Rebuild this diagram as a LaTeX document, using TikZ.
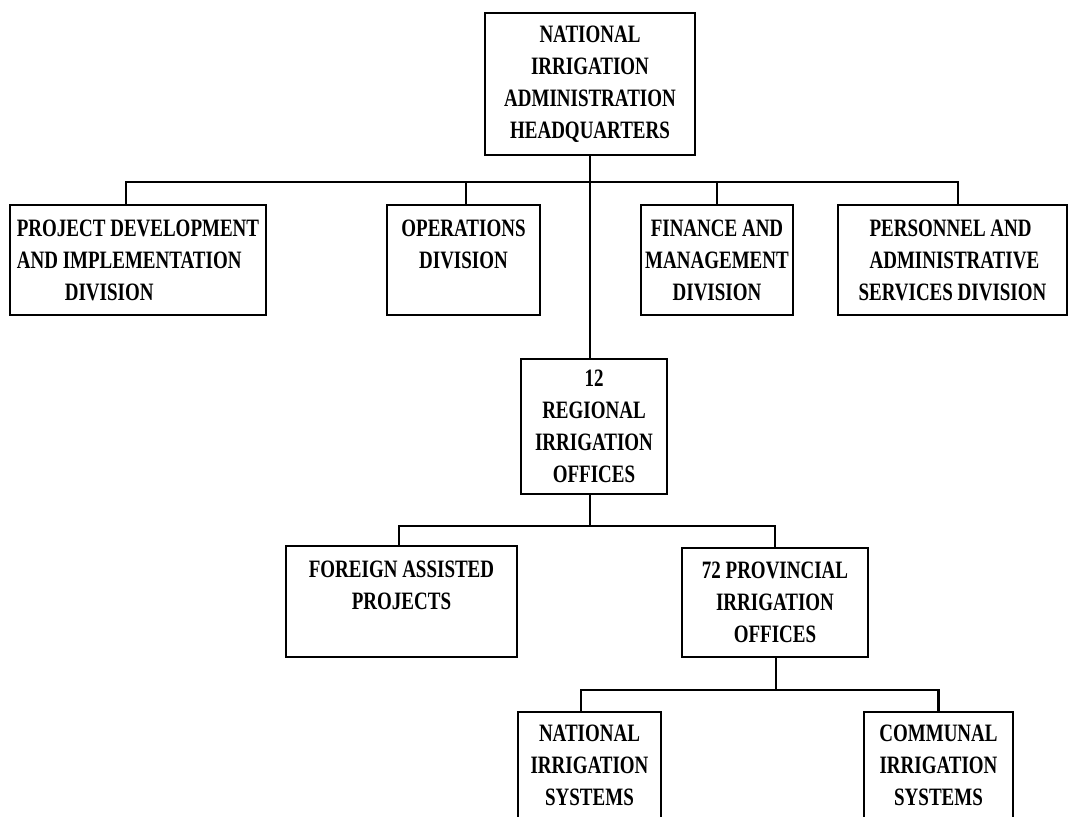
\documentclass[tikz,border=0pt]{standalone}
\usepackage{fontspec}
\setmainfont{Liberation Serif}[FakeStretch=0.76]
\begin{document}
\begin{tikzpicture}[x=1pt,y=-1pt,
		office/.style={draw,line width=2.4pt,inner sep=0pt,align=center,font=\fontsize{25}{32}\selectfont\bfseries},
		link/.style={line width=2.4pt}]
			\useasboundingbox (0,0) rectangle (1069,817);
			\clip (0,0) rectangle (1069,817);
			%\draw [help lines] (0,0) grid (1069,817);
			\node [office,minimum width=210,minimum height=142] (HQ) at (590,84) {NATIONAL\\IRRIGATION\\ADMINISTRATION\\HEADQUARTERS};
			\node [office,minimum width=256,minimum height=110,align=left] (PD) at (138,260) {PROJECT DEVELOPMENT\\AND IMPLEMENTATION\\\hspace*{48pt}DIVISION};
			\node [office,minimum width=153,minimum height=110] (OD) at (463.5,260) {OPERATIONS\\DIVISION\\\rule{0pt}{0pt}};
			\node [office,minimum width=152,minimum height=110] (FM) at (717,260) {FINANCE AND\\MANAGEMENT\\DIVISION};
			\node [office,minimum width=229,minimum height=110,align=left] (PA) at (952.5,260) {\hspace*{11pt}PERSONNEL AND\\\hspace*{11pt}ADMINISTRATIVE\\SERVICES DIVISION};
			\node [office,minimum width=146,minimum height=135] (RIO) at (594,426.5) {12\\REGIONAL\\IRRIGATION\\OFFICES};
			\node [office,minimum width=231,minimum height=111] (FAP) at (401.5,601.5) {FOREIGN ASSISTED\\PROJECTS\\\rule{0pt}{0pt}};
			\node [office,minimum width=186,minimum height=109] (PIO) at (775,602.5) {72 PROVINCIAL\\IRRIGATION\\OFFICES};
			\node [office,minimum width=143,minimum height=212] (NIS) at (589.5,818) {NATIONAL\\IRRIGATION\\SYSTEMS\\\strut\\\strut\\\strut};
			\node [office,minimum width=149,minimum height=212] (CIS) at (938.5,818) {COMMUNAL\\IRRIGATION\\SYSTEMS\\\strut\\\strut\\\strut};
			\coordinate (U) at (590,182);
			\coordinate (V) at (590,526);
			\coordinate (W) at (776,690);
			\draw [link] (HQ.south) to (HQ.south |- RIO.north);
			\draw [link] ([xshift=-12pt]PD.north) |- (U) -| ([xshift=5.5pt]PA.north);
			\draw [link] ([xshift=2.5pt]OD.north) to ([xshift=2.5pt]OD.north |- U);
			\draw [link] (FM.north) to (FM.north |- U);
			\draw [link] (RIO.south -| V) to (V);
			\draw [link] ([xshift=-2.5pt]FAP.north) |- (V) -| (PIO.north);
			\draw [link] (PIO.south -| W) to (W);
			\draw [link] ([xshift=-8.5pt]NIS.north) |- (W) -| (CIS.north);
		\end{tikzpicture}
\end{document}
